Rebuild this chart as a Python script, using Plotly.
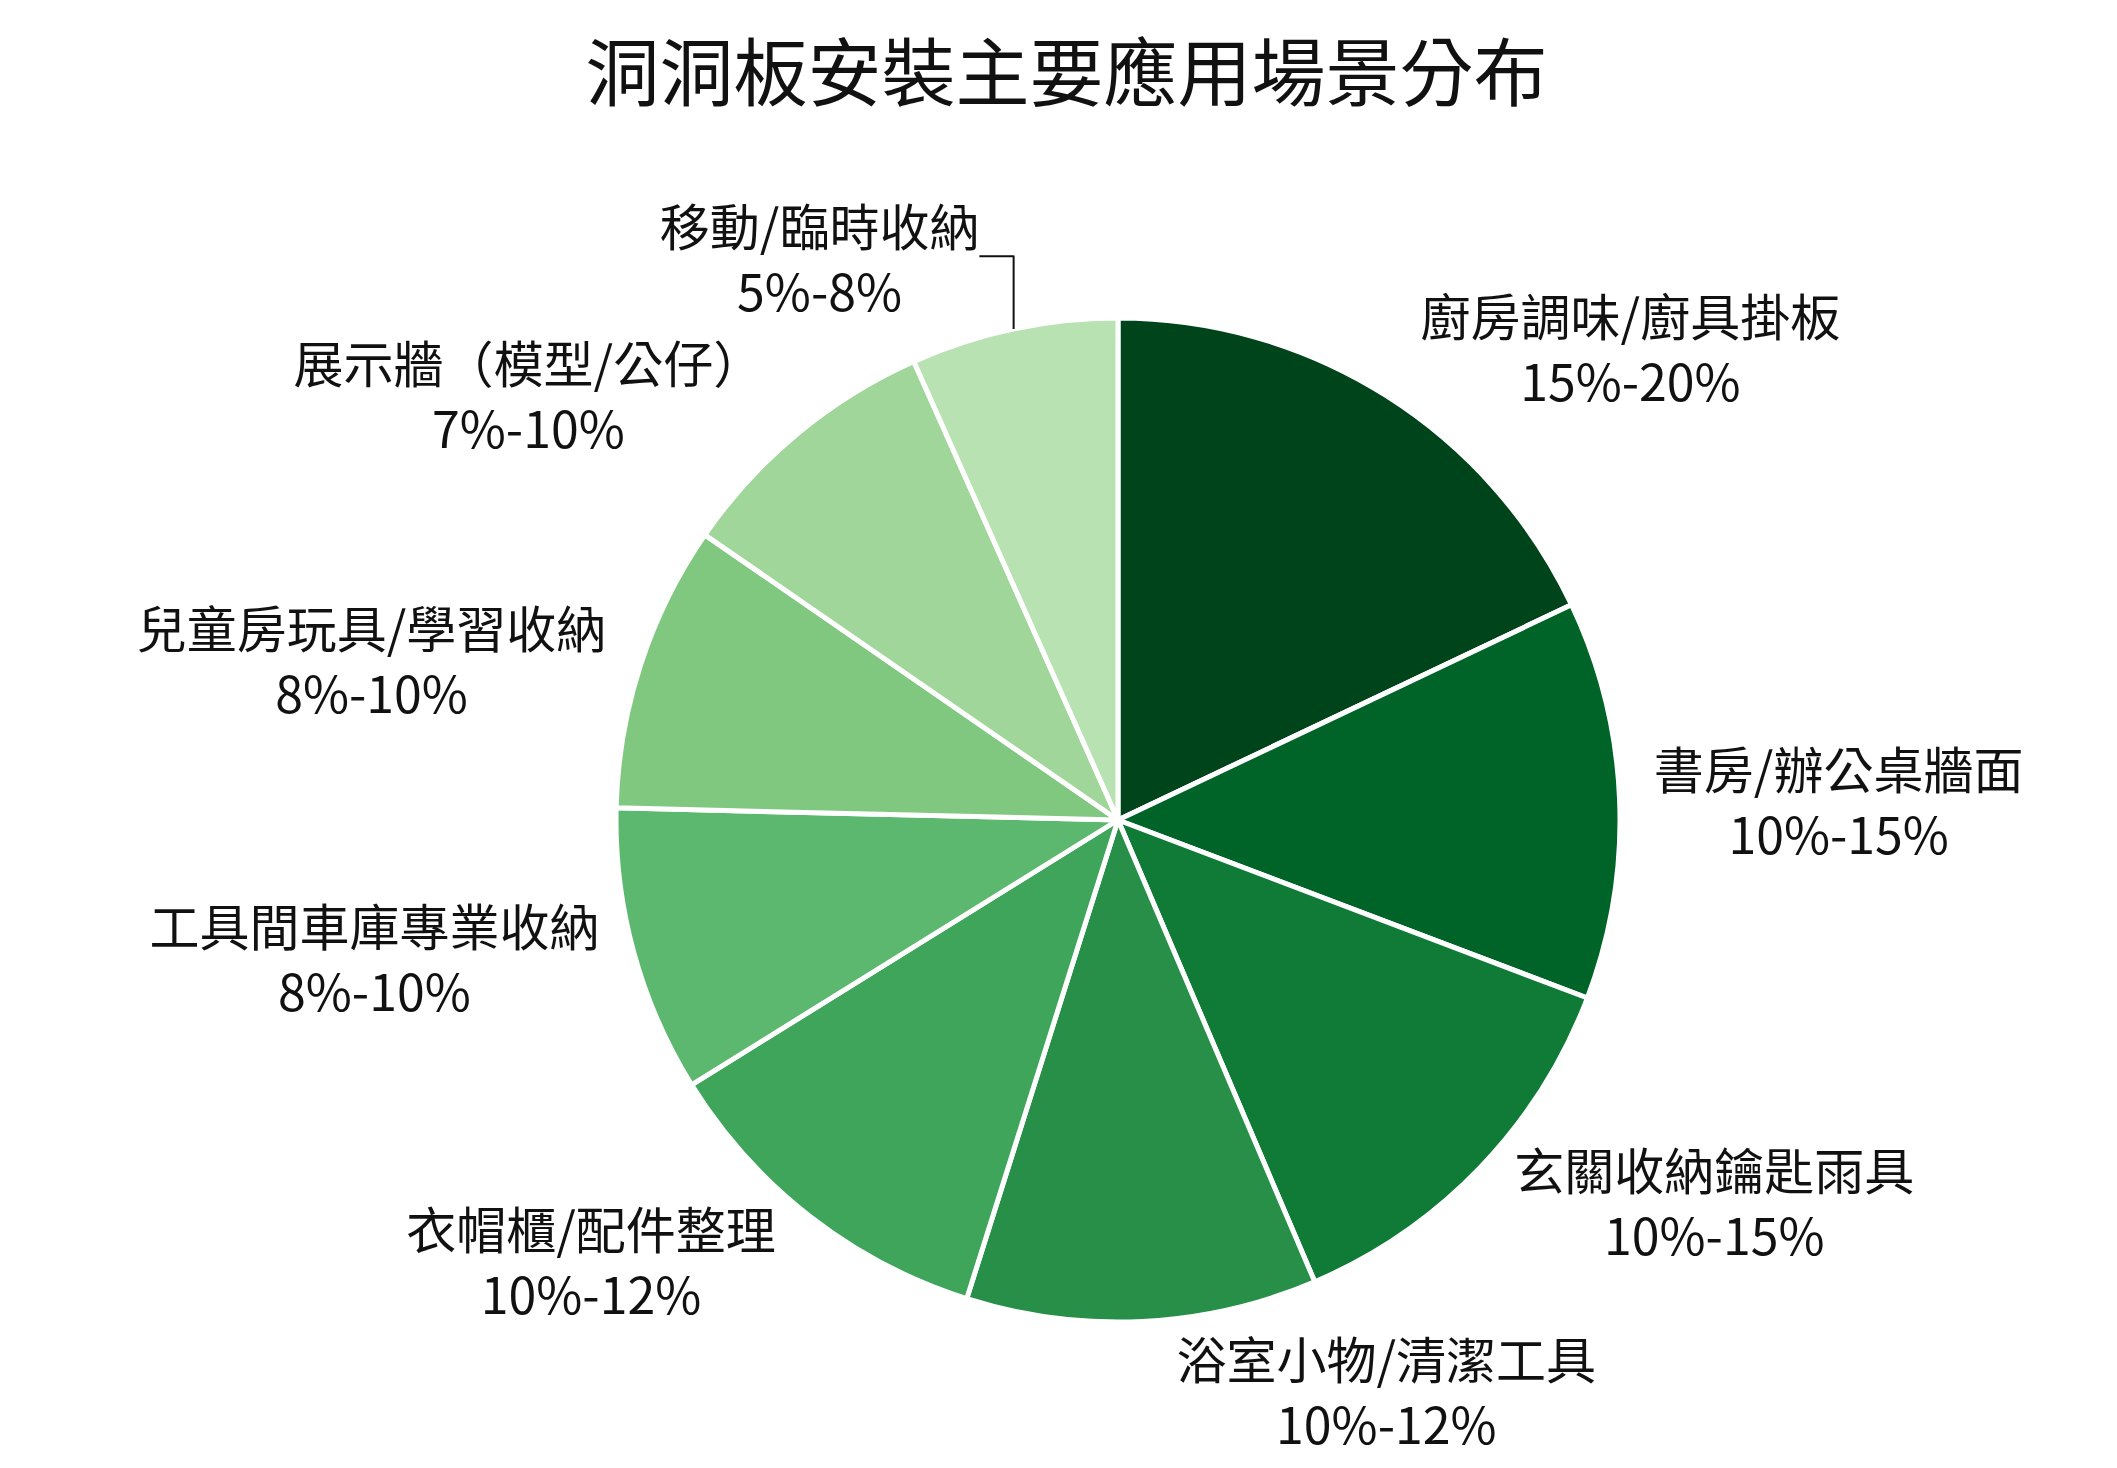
import plotly.graph_objects as go

labels = ["廚房調味/廚具掛板", "書房/辦公桌牆面", "玄關收納鑰匙雨具", "浴室小物/清潔工具",
          "衣帽櫃/配件整理", "工具間車庫專業收納", "兒童房玩具/學習收納", "展示牆（模型/公仔）", "移動/臨時收納"]
ranges = ["15%-20%", "10%-15%", "10%-15%", "10%-12%", "10%-12%", "8%-10%", "8%-10%", "7%-10%", "5%-8%"]
values = [17.5, 12.5, 12.5, 11, 11, 9, 9, 8.5, 6.5]
colors = ["#00441b", "#006428", "#107a37", "#288f48", "#3ea55b", "#5bb86e", "#80c77f", "#a0d699", "#b9e2b2"]

fig = go.Figure(go.Pie(
    labels=labels, values=values, sort=False, direction="clockwise", rotation=0,
    text=[f"{l}<br>{r}" for l, r in zip(labels, ranges)],
    textinfo="text", textposition="outside", hoverinfo="label+text",
    marker=dict(colors=colors, line=dict(color="white", width=5)),
    outsidetextfont=dict(size=50, color="#111"),
    showlegend=False,
))
fig.update_layout(
    width=2117, height=1468,
    font=dict(family="Noto Sans CJK TC"),
    title=dict(text="洞洞板安裝主要應用場景分布", x=0.5, y=0.955, xanchor="center", yanchor="middle",
               font=dict(size=74, color="#111")),
    margin=dict(t=310, b=154, l=608, r=505),
    paper_bgcolor="white",
)
fig.write_html("out.html")
